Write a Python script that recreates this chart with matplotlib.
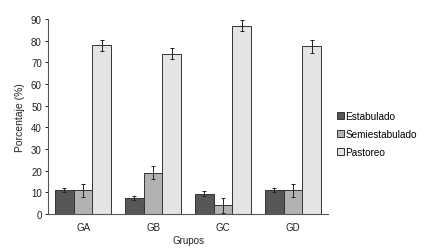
import numpy as np
import matplotlib
matplotlib.use('Agg')
import matplotlib.pyplot as plt
from matplotlib import font_manager

# usar Liberation Sans normal (no la Narrow)
fam = 'DejaVu Sans'
for f in font_manager.findSystemFonts():
    if f.endswith('LiberationSans-Regular.ttf'):
        font_manager.fontManager.addfont(f)
        fam = font_manager.FontProperties(fname=f).get_name()
        break
plt.rcParams['font.family'] = [fam, 'DejaVu Sans']

# datos
grupos = ['GA', 'GB', 'GC', 'GD']
estabulado = [11, 7.3, 9.5, 11]
estabulado_err = [1, 1, 1, 1]
semiestabulado = [11, 19, 4, 11]
semiestabulado_err = [3, 3, 3.5, 3]
pastoreo = [78, 74, 87, 77.5]
pastoreo_err = [2.5, 2.5, 2.5, 3]

fig = plt.figure(figsize=(4.41, 2.51), dpi=100)
ax = fig.add_axes([0.109, 0.143, 0.635, 0.777])

x = np.arange(len(grupos))
w = 0.267
series = [
    (estabulado, estabulado_err, '#575757', 'Estabulado'),
    (semiestabulado, semiestabulado_err, '#b2b2b2', 'Semiestabulado'),
    (pastoreo, pastoreo_err, '#e4e4e4', 'Pastoreo'),
]
for i, (vals, err, col, lab) in enumerate(series):
    ax.bar(x + (i - 1) * w, vals, w, color=col, edgecolor='#333333', linewidth=0.7,
           yerr=err, capsize=1.5, error_kw=dict(elinewidth=0.7, capthick=0.7, ecolor='#222222'),
           label=lab)

ax.set_xlim(-0.5, 3.5)
ax.set_ylim(0, 90)
ax.set_yticks(range(0, 91, 10))
ax.set_xticks(x)
ax.set_xticklabels(grupos)
ax.tick_params(axis='x', length=0, pad=6, labelsize=7, colors='#222222')
ax.tick_params(axis='y', length=2.5, width=0.7, pad=2, labelsize=7, colors='#222222')
for s in ['top', 'right']:
    ax.spines[s].set_visible(False)
for s in ['left', 'bottom']:
    ax.spines[s].set_color('#555555')
    ax.spines[s].set_linewidth(0.8)

ax.set_ylabel('Porcentaje (%)', fontsize=7.5, color='#222222', labelpad=4)
ax.set_xlabel('Grupos', fontsize=7, color='#222222', labelpad=2)

ax.legend(loc='center left', bbox_to_anchor=(1.0, 0.41), frameon=False, fontsize=7.2,
          handlelength=0.7, handleheight=0.7, handletextpad=0.1, labelspacing=0.8)

fig.savefig('out.png', dpi=100)
